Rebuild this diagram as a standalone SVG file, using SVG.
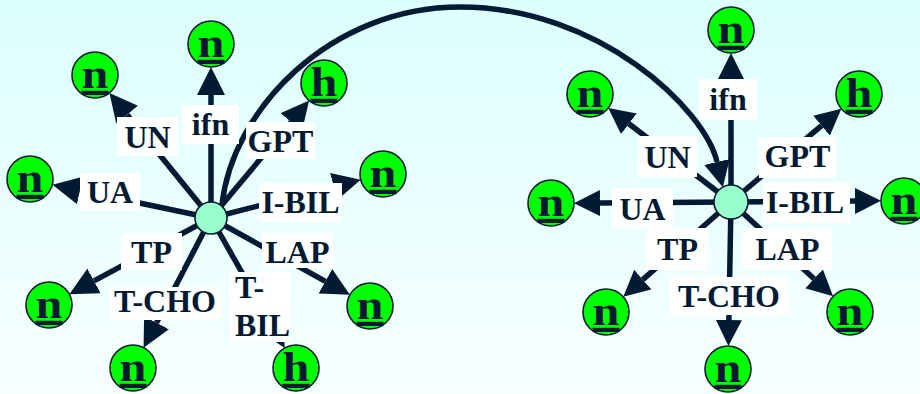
<svg xmlns="http://www.w3.org/2000/svg" width="920" height="394" viewBox="0 0 920 394">
  <defs>
    <linearGradient id="bg" x1="0" y1="0" x2="0" y2="1">
      <stop offset="0" stop-color="#DCFFFF"/>
      <stop offset="1" stop-color="#F7FFFF"/>
    </linearGradient>
    <marker id="arrowL" viewBox="0 0 10 10" refX="0" refY="5" markerUnits="userSpaceOnUse" markerWidth="28" markerHeight="28" orient="auto">
      <path d="M0,0 L10,5 L0,10 Z" fill="#001A33"/>
    </marker>
    <marker id="arrowR" viewBox="0 0 10 10" refX="0" refY="5" markerUnits="userSpaceOnUse" markerWidth="26" markerHeight="26" orient="auto">
      <path d="M0,0 L10,5 L0,10 Z" fill="#001A33"/>
    </marker>
    <style>
      .edge { stroke: #001A33; stroke-width: 5.5; fill: none; }
      .left { marker-end: url(#arrowL); }
      .right { marker-end: url(#arrowR); }
      .box { fill: #FFFFFF; }
      .lbl { font-family: "Liberation Serif", "Times New Roman", serif; font-weight: bold; font-size: 32px; fill: #001A33; text-anchor: middle; }
      .leaf circle { fill: #00FF00; stroke: #001A33; stroke-width: 1.6; }
      .leaf text { font-family: "Liberation Serif", "Times New Roman", serif; font-weight: bold; font-size: 42px; fill: #001A33; text-anchor: middle; text-decoration: underline; }
      .hub circle { fill: #99FFCC; stroke: #001A33; stroke-width: 1.6; }
    </style>
  </defs>

  <rect width="920" height="394" fill="url(#bg)"/>

  <!-- connectors -->
  <g id="connectors">
    <!-- left star -->
    <line class="edge left" x1="211" y1="218" x2="211" y2="95"/>
    <line class="edge left" x1="211" y1="218" x2="127.1" y2="114.7"/>
    <line class="edge left" x1="211" y1="218" x2="291.2" y2="122.1"/>
    <line class="edge left" x1="211" y1="218" x2="333.6" y2="186.6"/>
    <line class="edge left" x1="211" y1="218" x2="79.9" y2="190.5"/>
    <line class="edge left" x1="211" y1="218" x2="94" y2="280.9"/>
    <line class="edge left" x1="211" y1="218" x2="156.5" y2="322.8"/>
    <line class="edge left" x1="211" y1="218" x2="270.9" y2="323.6"/>
    <line class="edge left" x1="211" y1="218" x2="325.4" y2="281.3"/>
    <!-- right star -->
    <line class="edge right" x1="731" y1="202" x2="731" y2="79"/>
    <line class="edge right" x1="731" y1="202" x2="628.9" y2="123.8"/>
    <line class="edge right" x1="731" y1="202" x2="821.5" y2="125.6"/>
    <line class="edge right" x1="731" y1="202" x2="855" y2="201"/>
    <line class="edge right" x1="731" y1="202" x2="600" y2="203"/>
    <line class="edge right" x1="731" y1="202" x2="642.8" y2="279.6"/>
    <line class="edge right" x1="731" y1="202" x2="728.9" y2="320"/>
    <line class="edge right" x1="731" y1="202" x2="814" y2="278.7"/>
    <!-- arc from left hub to right hub -->
    <path class="edge right" d="M222,205 C232,110 330,7 460,7 C600,7 705,110 717,162"/>
  </g>

  <!-- connector labels -->
  <g id="labels">
    <rect class="box" x="117" y="117" width="61" height="39"/>
    <text class="lbl" x="147.5" y="148">UN</text>
    <rect class="box" x="182" y="105" width="57" height="39"/>
    <text class="lbl" x="210.5" y="135">ifn</text>
    <rect class="box" x="246" y="122" width="69" height="37"/>
    <text class="lbl" x="280.5" y="152">GPT</text>
    <rect class="box" x="80" y="173" width="60" height="37"/>
    <text class="lbl" x="110" y="203">UA</text>
    <rect class="box" x="259" y="183" width="83" height="39"/>
    <text class="lbl" x="300.5" y="213">I-BIL</text>
    <rect class="box" x="121" y="233" width="61" height="37"/>
    <text class="lbl" x="151.5" y="263">TP</text>
    <rect class="box" x="262" y="233" width="71" height="35"/>
    <text class="lbl" x="297.5" y="263">LAP</text>
    <rect class="box" x="110" y="287" width="110" height="33"/>
    <text class="lbl" x="165" y="312">T-CHO</text>
    <rect class="box" x="230" y="272" width="60" height="70"/>
    <text class="lbl" x="235" y="298" style="text-anchor:start">T-</text>
    <text class="lbl" x="235" y="336" style="text-anchor:start">BIL</text>

    <rect class="box" x="638" y="136" width="59" height="41"/>
    <text class="lbl" x="667.5" y="168">UN</text>
    <rect class="box" x="699" y="79" width="58" height="41"/>
    <text class="lbl" x="728" y="110">ifn</text>
    <rect class="box" x="759" y="137" width="77" height="41"/>
    <text class="lbl" x="797.5" y="167">GPT</text>
    <rect class="box" x="612" y="188" width="61" height="39"/>
    <text class="lbl" x="642.5" y="220">UA</text>
    <rect class="box" x="763" y="182" width="87" height="41"/>
    <text class="lbl" x="805" y="213">I-BIL</text>
    <rect class="box" x="647" y="228" width="61" height="42"/>
    <text class="lbl" x="677.5" y="260">TP</text>
    <rect class="box" x="743" y="228" width="89" height="42"/>
    <text class="lbl" x="787.5" y="260">LAP</text>
    <rect class="box" x="670" y="277" width="118" height="38"/>
    <text class="lbl" x="729" y="307">T-CHO</text>
  </g>

  <!-- hubs -->
  <g id="hubLeft" class="hub"><circle cx="211" cy="218" r="16"/></g>
  <g id="hubRight" class="hub"><circle cx="731" cy="202" r="17"/></g>

  <!-- left leaves -->
  <g id="L-ifn" class="leaf"><circle cx="211" cy="44" r="23"/><text transform="translate(211,57) scale(1.15,1)">n</text></g>
  <g id="L-UN" class="leaf"><circle cx="95" cy="75" r="23"/><text transform="translate(95,88) scale(1.15,1)">n</text></g>
  <g id="L-GPT" class="leaf"><circle cx="324" cy="83" r="23"/><text transform="translate(324,96) scale(1.15,1)">h</text></g>
  <g id="L-IBIL" class="leaf"><circle cx="383" cy="174" r="23"/><text transform="translate(383,187) scale(1.15,1)">n</text></g>
  <g id="L-UA" class="leaf"><circle cx="30" cy="179" r="23"/><text transform="translate(30,192) scale(1.15,1)">n</text></g>
  <g id="L-TP" class="leaf"><circle cx="49" cy="305" r="23"/><text transform="translate(49,318) scale(1.15,1)">n</text></g>
  <g id="L-TCHO" class="leaf"><circle cx="133" cy="368" r="23"/><text transform="translate(133,381) scale(1.15,1)">n</text></g>
  <g id="L-TBIL" class="leaf"><circle cx="296" cy="368" r="23"/><text transform="translate(296,381) scale(1.15,1)">h</text></g>
  <g id="L-LAP" class="leaf"><circle cx="370" cy="306" r="23"/><text transform="translate(370,319) scale(1.15,1)">n</text></g>

  <!-- right leaves -->
  <g id="R-ifn" class="leaf"><circle cx="731" cy="30" r="23"/><text transform="translate(731,43) scale(1.15,1)">n</text></g>
  <g id="R-UN" class="leaf"><circle cx="590" cy="94" r="23"/><text transform="translate(590,107) scale(1.15,1)">n</text></g>
  <g id="R-GPT" class="leaf"><circle cx="859" cy="94" r="23"/><text transform="translate(859,107) scale(1.15,1)">h</text></g>
  <g id="R-IBIL" class="leaf"><circle cx="904" cy="201" r="23"/><text transform="translate(904,214) scale(1.15,1)">n</text></g>
  <g id="R-UA" class="leaf"><circle cx="551" cy="203" r="23"/><text transform="translate(551,216) scale(1.15,1)">n</text></g>
  <g id="R-TP" class="leaf"><circle cx="606" cy="312" r="23"/><text transform="translate(606,325) scale(1.15,1)">n</text></g>
  <g id="R-TCHO" class="leaf"><circle cx="728" cy="369" r="23"/><text transform="translate(728,382) scale(1.15,1)">n</text></g>
  <g id="R-LAP" class="leaf"><circle cx="850" cy="312" r="23"/><text transform="translate(850,325) scale(1.15,1)">n</text></g>
</svg>
